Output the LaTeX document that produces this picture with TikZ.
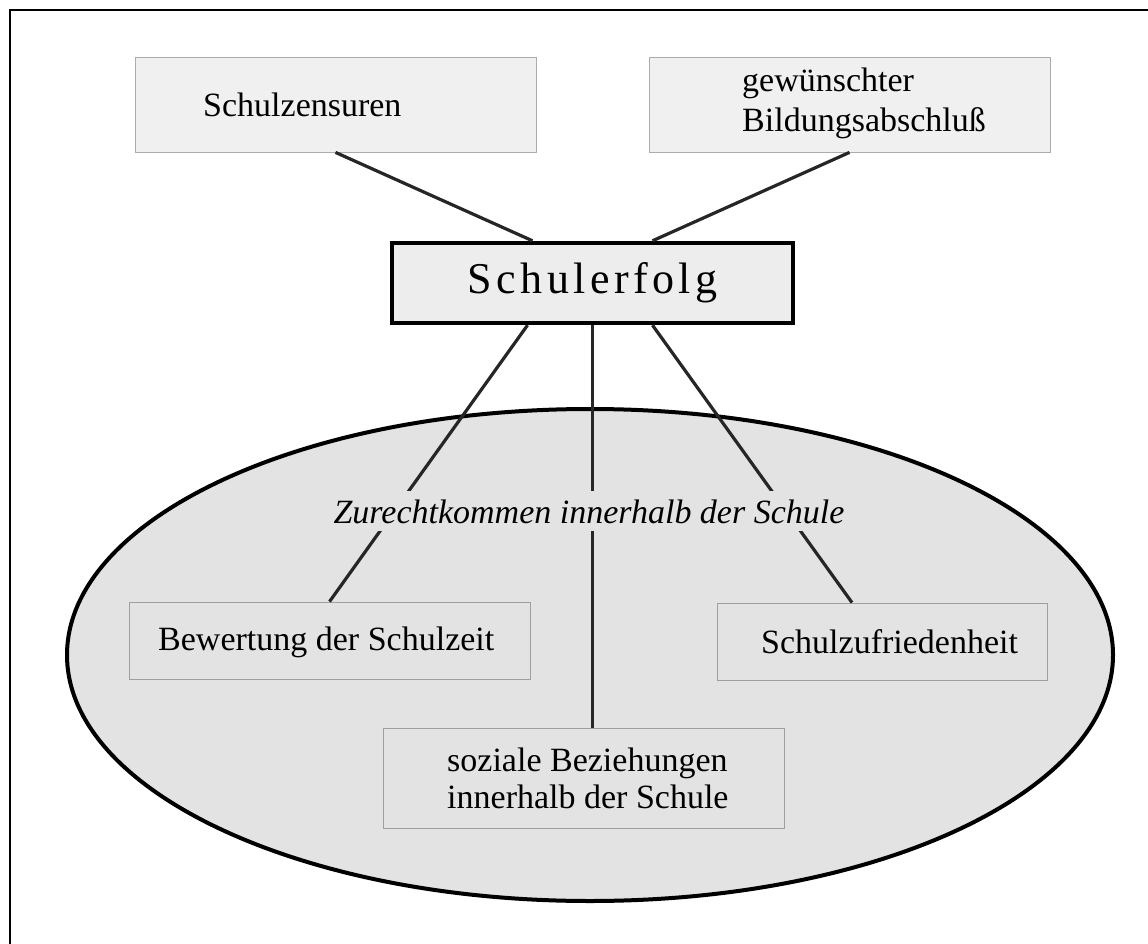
\documentclass[tikz,border=0pt]{standalone}
\usepackage{fontspec}
\setmainfont{Liberation Serif}
\usepackage{tikz}
\usetikzlibrary{calc}

\begin{document}
\begin{tikzpicture}[x=1pt,y=-1pt,
        kasten/.style={draw=gray!65, line width=0.8pt, fill=gray!12, minimum width=401pt, minimum height=95pt, inner sep=0pt},
        innenkasten/.style={draw=gray!75, line width=0.8pt, fill=gray!22, minimum height=77pt, inner sep=0pt},
        beschriftung/.style={font=\fontsize{34}{40}\selectfont, inner sep=0pt, align=left},
        verbindung/.style={line width=3.2pt, black!85}]

        \useasboundingbox (0,0) rectangle (1148,944);

        \draw[line width=1.4pt] (10,944) -- (10,10) -- (1148,10);

        \draw[line width=4pt, fill=gray!22] (590,655) ellipse [x radius=523, y radius=246];

        \node[kasten] (zensurbox) at (335.5,104.5) {};
        \node[kasten] (wunschbox) at (849.5,104.5) {};
        \node[draw=black, line width=4.4pt, fill=gray!14, minimum width=401pt, minimum height=80pt, inner sep=0pt,
            font=\fontsize{44}{50}\selectfont\addfontfeature{LetterSpace=10}] (erfolg) at (592.5,283) {Schulerfolg};

        \node[innenkasten, minimum width=401pt] (bewertbox) at (329.5,640.5) {};
        \node[innenkasten, minimum width=330pt] (zufriedbox) at (882,641.5) {};
        \node[innenkasten, minimum width=401pt, minimum height=100pt] (sozialbox) at (583.5,778) {};

        \node[beschriftung, anchor=base west] (zensur) at (203,117) {Schulzensuren};
        \node[beschriftung, anchor=base west] (wunsch) at (742,132) {gewünschter\\Bildungsabschluß};
        \node[beschriftung, anchor=base west] (bewert) at (158,650) {Bewertung der Schulzeit};
        \node[beschriftung, anchor=base west] (zufried) at (761,653) {Schulzufriedenheit};
        \node[beschriftung, anchor=base west, font=\fontsize{34}{37}\selectfont] (sozial) at (447,808) {soziale Beziehungen\\innerhalb der Schule};

        \draw[verbindung] (zensurbox.south) -- ($(erfolg.north)+(-60,0)$);
        \draw[verbindung] (wunschbox.south) -- ($(erfolg.north)+(60,0)$);
        \draw[verbindung] ($(erfolg.south)+(-65,0)$) -- (bewertbox.north);
        \draw[verbindung] (erfolg.south) -- (erfolg.south |- sozialbox.north);
        \draw[verbindung] ($(erfolg.south)+(60,0)$) -- ($(zufriedbox.north)+(-30,0)$);

        \node[beschriftung, fill=gray!22, inner xsep=2pt, inner ysep=8pt, anchor=base,
            font=\fontsize{34}{40}\selectfont\itshape] (zurecht) at (589,523) {Zurechtkommen innerhalb der Schule};

\end{tikzpicture}
\end{document}
